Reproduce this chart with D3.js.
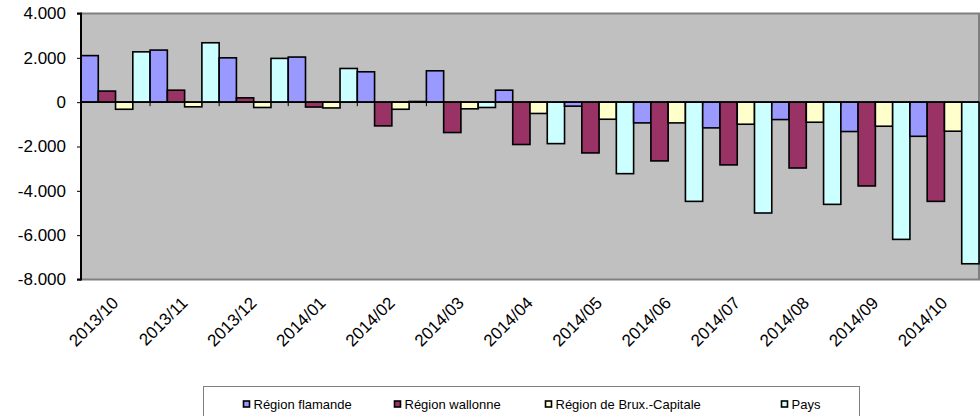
<!DOCTYPE html>
<html>
<head>
<meta charset="utf-8">
<script src="https://cdn.jsdelivr.net/npm/d3@7"></script>
<style>
html,body{margin:0;padding:0;background:#fff;}
svg{display:block;font-family:"Liberation Sans",Arial,sans-serif;}
</style>
</head>
<body>
<svg id="chart" width="980" height="416"></svg>
<script>
const categories = ["2013/10","2013/11","2013/12","2014/01","2014/02","2014/03","2014/04","2014/05","2014/06","2014/07","2014/08","2014/09","2014/10"];
const seriesNames = ["Région flamande","Région wallonne","Région de Brux.-Capitale","Pays"];
const flamande = [2100, 2350, 2000, 2035, 1370, 1415, 540, -180, -935, -1160, -785, -1325, -1540];
const wallonne = [500, 540, 195, -220, -1070, -1370, -1910, -2290, -2650, -2830, -2970, -3780, -4475];
const bruxelles = [-320, -210, -240, -260, -320, -300, -510, -770, -935, -995, -905, -1085, -1310];
const pays = [2270, 2680, 1975, 1520, 30, -240, -1870, -3225, -4475, -5000, -4610, -6190, -7290];
const seriesColors = ["#9999FF","#993366","#FFFFCC","#CCFFFF"];
const yTicks = [4000, 2000, 0, -2000, -4000, -6000, -8000];
const yTickLabels = ["4.000","2.000","0","-2.000","-4.000","-6.000","-8.000"];

const seriesValues = [flamande, wallonne, bruxelles, pays];
const svg = d3.select("#chart");
const L = 81, R = 979, T = 13.5, B = 279.5;

const x = d3.scaleBand().domain(categories).range([L, R]).padding(0);
const xs = d3.scaleBand().domain(d3.range(4)).range([0, x.bandwidth()]).padding(0);
const y = d3.scaleLinear().domain([-8000, 4000]).range([B, T]);

// plot background
svg.append("rect").attr("x", L).attr("y", T).attr("width", R - L).attr("height", B - T)
  .attr("fill", "#C0C0C0").attr("stroke", "#808080").attr("stroke-width", 2);

// bars
const data = [];
categories.forEach((c, i) => {
  seriesValues.forEach((arr, s) => data.push({c, s, v: arr[i]}));
});
svg.append("g").selectAll("rect").data(data).join("rect")
  .attr("x", d => x(d.c) + xs(d.s))
  .attr("width", xs.bandwidth())
  .attr("y", d => Math.min(y(d.v), y(0)))
  .attr("height", d => Math.abs(y(d.v) - y(0)))
  .attr("fill", d => seriesColors[d.s])
  .attr("stroke", "#000").attr("stroke-width", 1.6);

// zero axis with category ticks
const xAxis = d3.axisBottom(x).tickSize(4).tickFormat("").tickValues([]);
const zg = svg.append("g").attr("transform", `translate(0,${y(0)})`);
zg.append("line").attr("x1", L).attr("x2", R).attr("stroke", "#000").attr("stroke-width", 1.6);
zg.selectAll("line.tk").data(categories.slice(1)).join("line").attr("class", "tk")
  .attr("x1", d => x(d)).attr("x2", d => x(d)).attr("y1", 0).attr("y2", 4)
  .attr("stroke", "#000").attr("stroke-width", 1);

// y axis
const yAxis = d3.axisLeft(y).tickValues(yTicks).tickSize(4)
  .tickFormat((d, i) => yTickLabels[i]);
const yg = svg.append("g").attr("transform", `translate(${L},0)`).call(yAxis);
yg.select(".domain").attr("stroke", "#000").attr("stroke-width", 2).attr("d", `M-4,${T}H0V${B}H-4`);
yg.selectAll(".tick line").attr("stroke", "#000");
yg.selectAll(".tick text").attr("x", -15).attr("font-size", 17).attr("fill", "#000")
  .attr("font-family", "'Liberation Sans',Arial,sans-serif");

// x labels (bottom, rotated)
svg.append("g").selectAll("text").data(categories).join("text")
  .attr("transform", d => `translate(${x(d) + x.bandwidth() / 2 + 4},304) rotate(-45)`)
  .attr("text-anchor", "end")
  .attr("font-size", 17).attr("fill", "#000")
  .text(d => d);

// legend
const lg = svg.append("g");
lg.append("rect").attr("x", 203.5).attr("y", 386.5).attr("width", 656).attr("height", 60)
  .attr("fill", "#fff").attr("stroke", "#808080").attr("stroke-width", 1);
const legX = [243.5, 394.5, 545.5, 781.5];
seriesNames.forEach((n, i) => {
  lg.append("rect").attr("x", legX[i]).attr("y", 401).attr("width", 6).attr("height", 6)
    .attr("fill", seriesColors[i]).attr("stroke", "#000").attr("stroke-width", 1.6);
  lg.append("text").attr("x", legX[i] + 10).attr("y", 409).attr("font-size", 13)
    .attr("fill", "#000").text(n);
});
</script>
</body>
</html>
